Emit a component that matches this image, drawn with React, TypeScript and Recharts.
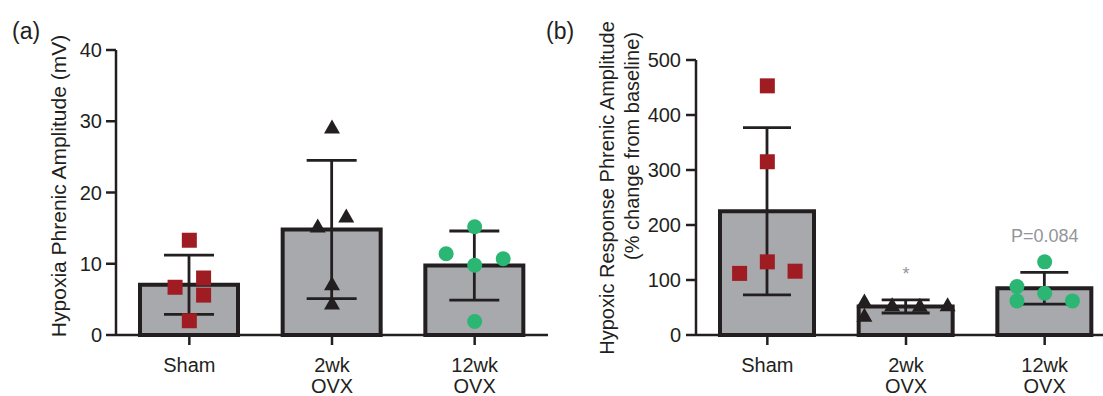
import { ComposedChart, Bar, ErrorBar, Scatter, XAxis, YAxis, ReferenceDot } from "recharts";

const INK = "#231f20";
const GREY = "#a7a9ac";
const RED = "#9e1c22";
const GREEN = "#2bb673";
const NOTE = "#939598";
const FONT = "'Liberation Sans', Arial, Helvetica, sans-serif";

const groups = ["Sham", "2wk OVX", "12wk OVX"];

// (a) hypoxia phrenic amplitude (mV)
const ampMean = [7.05, 14.8, 9.75];
const ampSd = [4.15, 9.7, 4.85];
const ampTicks = [0, 10, 20, 30, 40];
// single animals; x is the spot across the three group slots (0-3)
const ampSham = [
  { x: 0.5, v: 13.3 },
  { x: 0.4, v: 6.7 },
  { x: 0.6, v: 8.0 },
  { x: 0.6, v: 5.6 },
  { x: 0.5, v: 2.0 },
];
const amp2wk = [
  { x: 1.5, v: 29.2 },
  { x: 1.4, v: 15.3 },
  { x: 1.6, v: 16.7 },
  { x: 1.5, v: 7.2 },
  { x: 1.5, v: 4.5 },
];
const amp12wk = [
  { x: 2.5, v: 15.2 },
  { x: 2.3, v: 11.4 },
  { x: 2.5, v: 9.8 },
  { x: 2.7, v: 10.7 },
  { x: 2.5, v: 1.9 },
];

// (b) hypoxic response, % change from baseline
const respMean = [225, 52, 85];
const respSd = [152, 12, 29];
const respTicks = [0, 100, 200, 300, 400, 500];
const respSham = [
  { x: 0.5, v: 453 },
  { x: 0.5, v: 315 },
  { x: 0.3, v: 112 },
  { x: 0.5, v: 133 },
  { x: 0.7, v: 116 },
];
const resp2wk = [
  { x: 1.2, v: 62 },
  { x: 1.2, v: 36 },
  { x: 1.4, v: 55 },
  { x: 1.6, v: 54 },
  { x: 1.8, v: 55 },
];
const resp12wk = [
  { x: 2.5, v: 133 },
  { x: 2.3, v: 88 },
  { x: 2.5, v: 76 },
  { x: 2.3, v: 62 },
  { x: 2.7, v: 62 },
];

const barsA = groups.map((name, i) => ({ name, mean: ampMean[i], sd: ampSd[i] }));
const barsB = groups.map((name, i) => ({ name, mean: respMean[i], sd: respSd[i] }));

const square = (p: any) => (
  <rect x={p.cx - 7.5} y={p.cy - 7.5} width={15} height={15} fill={RED} />
);
const triangle = (p: any) => (
  <path d={`M${p.cx},${p.cy - 7.5} L${p.cx + 8},${p.cy + 6.5} L${p.cx - 8},${p.cy + 6.5} Z`} fill={INK} />
);
const circle = (p: any) => <circle cx={p.cx} cy={p.cy} r={7.5} fill={GREEN} />;

const CatTick = (props: any) => {
  const { x, y, payload } = props;
  const lines = String(payload.value).split(" ");
  return (
    <text x={x} y={y + 25} textAnchor="middle" fill={INK} fontSize={20} fontFamily={FONT}>
      {lines.map((l, i) => (
        <tspan key={i} x={x} dy={i === 0 ? 0 : 21}>
          {l}
        </tspan>
      ))}
    </text>
  );
};

const TitleA = () => (
  <text
    transform="translate(58,186) rotate(-90)"
    textAnchor="middle"
    dominantBaseline="central"
    fill={INK}
    fontSize={21}
    fontFamily={FONT}
  >
    Hypoxia Phrenic Amplitude (mV)
  </text>
);

const TitleB = () => (
  <g fill={INK} fontSize={20} fontFamily={FONT}>
    <text transform="translate(47,188) rotate(-90)" textAnchor="middle" dominantBaseline="central">
      Hypoxic Response Phrenic Amplitude
    </text>
    <text transform="translate(72,146) rotate(-90)" textAnchor="middle" dominantBaseline="central">
      (% change from baseline)
    </text>
  </g>
);

const axisStyle = { stroke: INK, strokeWidth: 2.5 };
const tickText = { fill: INK, fontSize: 20, fontFamily: FONT };

export default function App() {
  return (
    <div
      style={{
        position: "absolute",
        left: 0,
        top: 0,
        width: 1103,
        height: 396,
        overflow: "hidden",
        background: "#fff",
        fontFamily: FONT,
      }}
    >
      <div style={{ position: "absolute", left: 12, top: 20, fontSize: 23, lineHeight: "23px", color: INK }}>(a)</div>
      <div style={{ position: "absolute", left: 546, top: 20, fontSize: 23, lineHeight: "23px", color: INK }}>(b)</div>

      {/* (a) */}
      <div style={{ position: "absolute", left: 0, top: 0 }}>
        <ComposedChart width={560} height={396} data={barsA} margin={{ top: 50, right: 12, bottom: 0, left: 0 }}>
          <XAxis
            dataKey="name"
            height={61}
            tick={<CatTick />}
            tickSize={10}
            tickMargin={2}
            axisLine={axisStyle}
            tickLine={axisStyle}
            padding={{ left: 2, right: 2 }}
            interval={0}
          />
          <XAxis xAxisId="pts" type="number" dataKey="x" domain={[0, 3]} hide padding={{ left: 2, right: 2 }} />
          <YAxis
            width={116}
            domain={[0, 40]}
            ticks={ampTicks}
            tick={tickText}
            tickSize={10}
            tickMargin={4}
            axisLine={axisStyle}
            tickLine={axisStyle}
            label={<TitleA />}
          />
          <Bar dataKey="mean" fill={GREY} stroke={INK} strokeWidth={4} barSize={98} isAnimationActive={false}>
            <ErrorBar dataKey="sd" width={25} stroke={INK} strokeWidth={2.8} direction="y" />
          </Bar>
          <Scatter xAxisId="pts" data={ampSham} dataKey="v" shape={square} isAnimationActive={false} />
          <Scatter xAxisId="pts" data={amp2wk} dataKey="v" shape={triangle} isAnimationActive={false} />
          <Scatter xAxisId="pts" data={amp12wk} dataKey="v" shape={circle} isAnimationActive={false} />
        </ComposedChart>
      </div>

      {/* (b) */}
      <div style={{ position: "absolute", left: 560, top: 0 }}>
        <ComposedChart width={570} height={396} data={barsB} margin={{ top: 60, right: 14, bottom: 0, left: 0 }}>
          <XAxis
            dataKey="name"
            height={61}
            tick={<CatTick />}
            tickSize={10}
            tickMargin={2}
            axisLine={axisStyle}
            tickLine={axisStyle}
            padding={{ left: 2, right: 2 }}
            interval={0}
          />
          <XAxis xAxisId="pts" type="number" dataKey="x" domain={[0, 3]} hide padding={{ left: 2, right: 2 }} />
          <YAxis
            width={136}
            domain={[0, 500]}
            ticks={respTicks}
            tick={tickText}
            tickSize={10}
            tickMargin={5}
            axisLine={axisStyle}
            tickLine={axisStyle}
            label={<TitleB />}
          />
          <Bar dataKey="mean" fill={GREY} stroke={INK} strokeWidth={4} barSize={94} isAnimationActive={false}>
            <ErrorBar dataKey="sd" width={24} stroke={INK} strokeWidth={2.8} direction="y" />
          </Bar>
          <Scatter xAxisId="pts" data={respSham} dataKey="v" shape={square} isAnimationActive={false} />
          <Scatter xAxisId="pts" data={resp2wk} dataKey="v" shape={triangle} isAnimationActive={false} />
          <Scatter xAxisId="pts" data={resp12wk} dataKey="v" shape={circle} isAnimationActive={false} />
          <ReferenceDot
            x="2wk OVX"
            y={112}
            r={0}
            label={{ value: "*", position: "center", fill: NOTE, fontSize: 18, fontFamily: FONT }}
          />
          <ReferenceDot
            x="12wk OVX"
            y={180}
            r={0}
            label={{ value: "P=0.084", position: "center", fill: NOTE, fontSize: 18, fontFamily: FONT }}
          />
        </ComposedChart>
      </div>
    </div>
  );
}
